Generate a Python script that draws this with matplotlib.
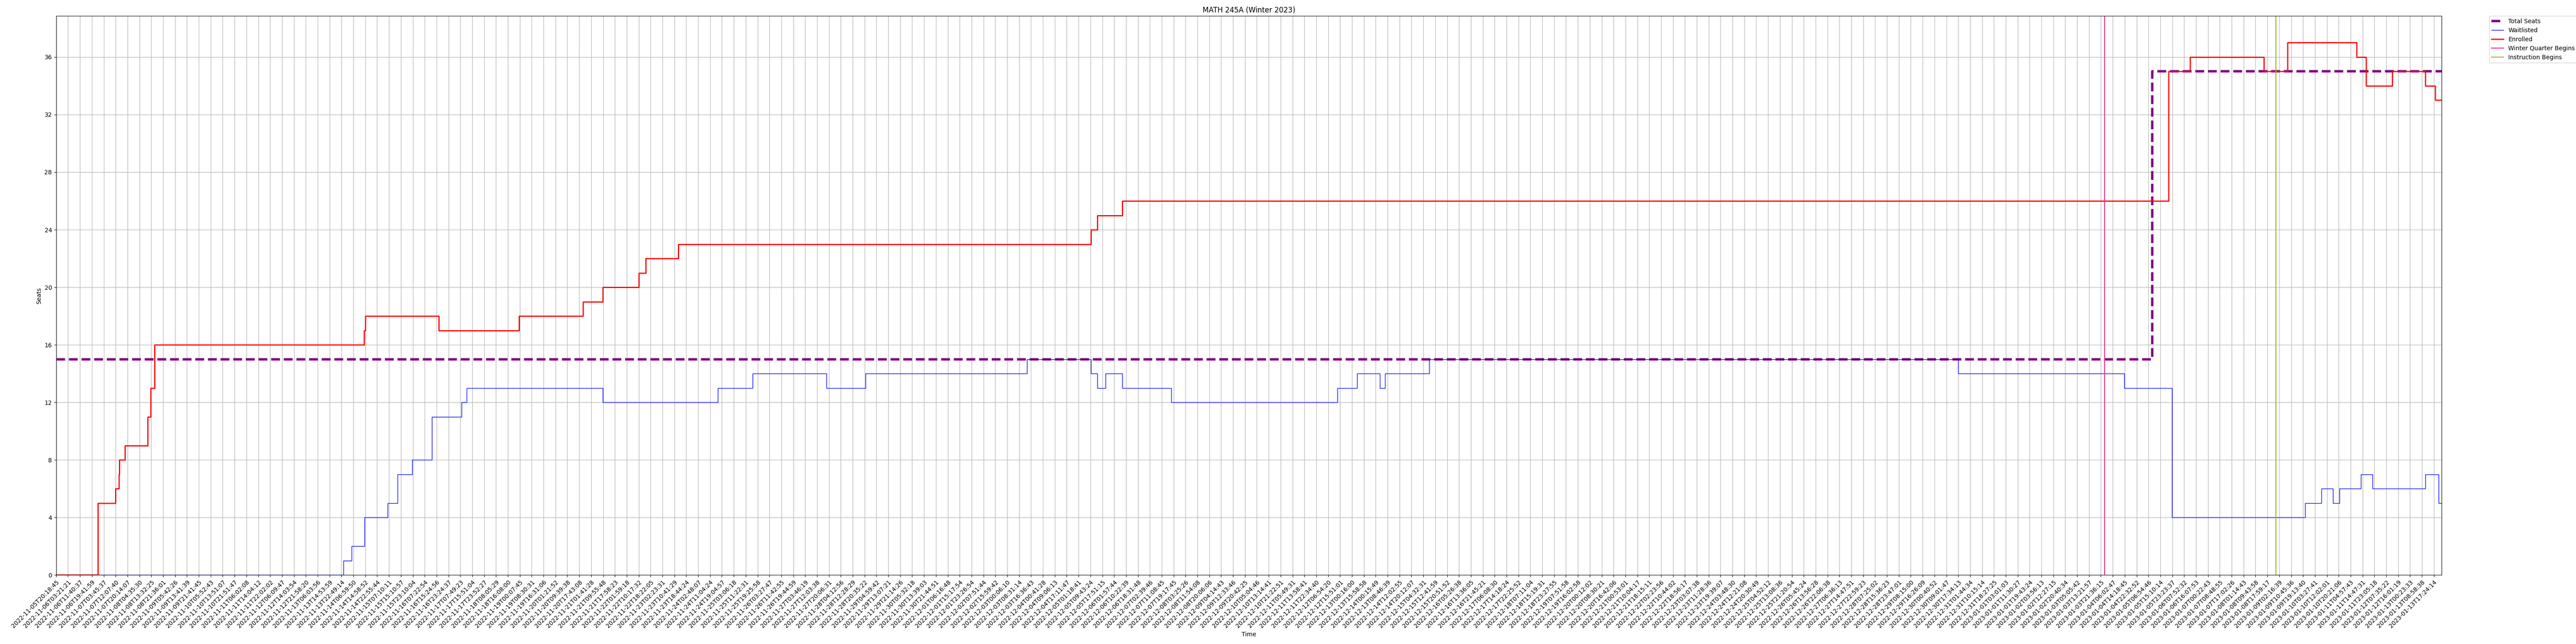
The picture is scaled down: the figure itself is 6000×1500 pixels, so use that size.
import matplotlib
matplotlib.use("Agg")
import matplotlib.pyplot as plt

# ---- tick labels (sample timestamps shown on the x axis) ----
time_labels = [
    "2022-11-05T20:18:45", "2022-11-06T03:21:21", "2022-11-06T11:40:37", "2022-11-06T19:41:59",
    "2022-11-07T03:45:37", "2022-11-07T12:07:40", "2022-11-07T20:14:07", "2022-11-08T04:35:30",
    "2022-11-08T13:32:25", "2022-11-08T21:36:01", "2022-11-09T05:42:26", "2022-11-09T13:41:39",
    "2022-11-09T21:41:45", "2022-11-10T05:52:43", "2022-11-10T13:51:07", "2022-11-10T21:51:47",
    "2022-11-11T06:02:08", "2022-11-11T14:04:12", "2022-11-11T22:02:02", "2022-11-12T06:09:47",
    "2022-11-12T14:03:54", "2022-11-12T21:58:20", "2022-11-13T06:03:56", "2022-11-13T14:53:59",
    "2022-11-13T22:49:14", "2022-11-14T06:59:50", "2022-11-14T14:58:52", "2022-11-14T22:55:44",
    "2022-11-15T07:10:11", "2022-11-15T15:10:57", "2022-11-15T23:10:04", "2022-11-16T07:22:54",
    "2022-11-16T15:24:56", "2022-11-16T23:24:37", "2022-11-17T07:49:23", "2022-11-17T15:51:04",
    "2022-11-17T23:52:27", "2022-11-18T08:05:29", "2022-11-18T16:08:00", "2022-11-19T00:07:45",
    "2022-11-19T08:30:31", "2022-11-19T16:31:06", "2022-11-20T01:21:52", "2022-11-20T09:39:38",
    "2022-11-20T17:43:08", "2022-11-21T01:41:28", "2022-11-21T09:55:48", "2022-11-21T17:58:23",
    "2022-11-22T01:59:18", "2022-11-22T10:17:32", "2022-11-22T18:22:05", "2022-11-23T02:23:31",
    "2022-11-23T10:41:29", "2022-11-23T18:44:24", "2022-11-24T02:48:07", "2022-11-24T11:04:24",
    "2022-11-24T19:04:57", "2022-11-25T03:06:18", "2022-11-25T11:22:31", "2022-11-25T19:25:58",
    "2022-11-26T03:27:47", "2022-11-26T11:42:55", "2022-11-26T19:44:59", "2022-11-27T03:46:19",
    "2022-11-27T12:03:38", "2022-11-27T20:06:31", "2022-11-28T04:12:56", "2022-11-28T12:28:29",
    "2022-11-28T20:35:22", "2022-11-29T04:59:42", "2022-11-29T13:07:21", "2022-11-29T21:14:26",
    "2022-11-30T05:32:18", "2022-11-30T13:39:03", "2022-11-30T21:44:51", "2022-12-01T06:16:48",
    "2022-12-01T15:17:54", "2022-12-01T23:26:54", "2022-12-02T07:51:44", "2022-12-02T15:59:42",
    "2022-12-03T00:06:10", "2022-12-03T08:31:14", "2022-12-03T16:36:43", "2022-12-04T00:41:28",
    "2022-12-04T09:06:13", "2022-12-04T17:11:47", "2022-12-05T01:18:41", "2022-12-05T09:43:24",
    "2022-12-05T17:51:15", "2022-12-06T01:57:44", "2022-12-06T10:22:39", "2022-12-06T18:31:48",
    "2022-12-07T02:39:46", "2022-12-07T11:08:45", "2022-12-07T19:17:45", "2022-12-08T03:25:26",
    "2022-12-08T11:54:08", "2022-12-08T20:06:06", "2022-12-09T04:14:43", "2022-12-09T12:33:46",
    "2022-12-09T20:42:25", "2022-12-10T05:04:46", "2022-12-10T13:14:41", "2022-12-10T21:22:51",
    "2022-12-11T05:49:31", "2022-12-11T13:58:41", "2022-12-11T22:34:40", "2022-12-12T06:54:20",
    "2022-12-12T15:51:01", "2022-12-13T00:16:00", "2022-12-13T15:58:58", "2022-12-14T00:15:49",
    "2022-12-13T08:46:39", "2022-12-14T12:02:55", "2022-12-14T20:12:07", "2022-12-15T04:32:31",
    "2022-12-15T12:41:59", "2022-12-15T20:51:52", "2022-12-16T05:26:38", "2022-12-16T13:36:05",
    "2022-12-16T21:45:21", "2022-12-17T06:08:30", "2022-12-17T14:18:24", "2022-12-17T22:25:52",
    "2022-12-18T07:11:04", "2022-12-18T15:19:31", "2022-12-18T23:27:55", "2022-12-19T07:51:58",
    "2022-12-19T16:02:58", "2022-12-20T00:12:02", "2022-12-20T08:30:21", "2022-12-20T16:42:06",
    "2022-12-21T00:53:01", "2022-12-21T10:04:17", "2022-12-21T18:15:11", "2022-12-22T02:23:56",
    "2022-12-22T10:44:02", "2022-12-22T18:56:17", "2022-12-23T03:07:38", "2022-12-23T11:28:36",
    "2022-12-23T19:39:07", "2022-12-24T03:48:30", "2022-12-24T12:21:08", "2022-12-24T20:30:49",
    "2022-12-25T04:52:12", "2022-12-25T13:08:36", "2022-12-25T21:20:54", "2022-12-26T05:45:24",
    "2022-12-26T13:56:28", "2022-12-26T22:06:38", "2022-12-27T06:36:13", "2022-12-27T14:47:51",
    "2022-12-27T22:59:23", "2022-12-28T07:25:02", "2022-12-28T15:36:23", "2022-12-28T23:47:01",
    "2022-12-29T08:15:00", "2022-12-29T16:26:09", "2022-12-30T00:40:52", "2022-12-30T09:01:47",
    "2022-12-30T17:34:13", "2022-12-31T01:44:34", "2022-12-31T10:15:14", "2022-12-31T18:27:25",
    "2023-01-01T03:01:03", "2023-01-01T11:30:27", "2023-01-01T19:43:24", "2023-01-02T03:56:13",
    "2023-01-02T12:27:15", "2023-01-02T20:40:34", "2023-01-03T05:05:42", "2023-01-03T13:21:57",
    "2023-01-03T21:36:15", "2023-01-04T06:02:47", "2023-01-04T14:18:45", "2023-01-04T22:32:52",
    "2023-01-05T06:54:46", "2023-01-05T15:10:14", "2023-01-05T23:23:37", "2023-01-06T07:52:32",
    "2023-01-06T16:07:53", "2023-01-07T00:22:43", "2023-01-07T08:48:55", "2023-01-07T17:02:26",
    "2023-01-08T01:14:43", "2023-01-08T09:43:58", "2023-01-08T17:59:17", "2023-01-09T02:16:39",
    "2023-01-09T10:45:36", "2023-01-09T19:13:40", "2023-01-10T03:27:41", "2023-01-10T12:02:01",
    "2023-01-10T20:21:06", "2023-01-11T04:57:43", "2023-01-11T14:47:31", "2023-01-11T23:05:18",
    "2023-01-12T07:35:22", "2023-01-12T16:01:19", "2023-01-13T00:23:33", "2023-01-13T08:58:38",
    "2023-01-13T17:24:14",
]

# position of the last sample, in tick units (one unit = one labelled timestamp)
last_sample = 200.65

# ---- series: change points (in tick units) and the value from that point on ----
seats_t = [0, 176.3]
seats_v = [15, 35]

enrolled_t = [0, 3.5, 5.0, 5.27, 5.33, 5.78, 7.71, 7.95, 8.26, 25.9, 26.0, 32.17, 38.94,
              44.33, 45.99, 49.03, 49.58, 52.35, 87.04, 87.59, 89.67, 177.7, 179.5,
              185.7, 187.7, 188.2, 193.5, 194.3, 196.5, 199.3, 200.1]
enrolled_v = [0, 5, 6, 7, 8, 9, 11, 13, 16, 17, 18, 17, 18,
              19, 20, 21, 22, 23, 24, 25, 26, 35, 36,
              35, 37, 37, 36, 34, 35, 34, 33]

wait_t = [0, 24.15, 24.85, 25.95, 27.89, 28.71, 29.96, 31.62, 34.11, 34.52, 45.99,
          55.66, 58.57, 64.79, 68.1, 81.65, 87.04, 87.59, 88.28, 89.67, 93.81,
          107.77, 109.43, 111.36, 111.78, 115.51, 160.0, 173.97, 177.98,
          189.18, 190.56, 191.53, 192.08, 193.88, 194.85, 199.3, 200.4]
wait_v = [0, 1, 2, 4, 5, 7, 8, 11, 12, 13, 12,
          13, 14, 13, 14, 15, 14, 13, 14, 13, 12,
          13, 14, 13, 14, 15, 14, 13, 4,
          5, 6, 5, 6, 7, 6, 7, 5]

# key dates (tick units)
quarter_begins = 172.3
instruction_begins = 186.7


def extend(t, v):
    return list(t) + [last_sample], list(v) + [v[-1]]


fig = plt.figure(figsize=(60, 15), dpi=100)
ax = fig.add_axes([0.0218, 0.1073, 0.9260, 0.8677])

x, y = extend(seats_t, seats_v)
ax.step(x, y, where="post", color="purple", linestyle="--", linewidth=4, label="Total Seats")
x, y = extend(wait_t, wait_v)
ax.step(x, y, where="post", color="blue", linewidth=1, label="Waitlisted")
x, y = extend(enrolled_t, enrolled_v)
ax.step(x, y, where="post", color="red", linewidth=2, label="Enrolled")
ax.axvline(quarter_begins, color="#e7298a", linewidth=1.5, label="Winter Quarter Begins")
ax.axvline(instruction_begins, color="#99b81a", linewidth=1.5, label="Instruction Begins")

ax.set_xlim(0, last_sample)
ax.set_ylim(0, 38.85)
ax.set_xticks(range(len(time_labels)))
ax.set_xticklabels(time_labels, rotation=45, ha="right", rotation_mode="anchor")
ax.set_yticks(range(0, 37, 4))
ax.grid(True)
ax.set_title("MATH 245A (Winter 2023)")
ax.set_xlabel("Time")
ax.set_ylabel("Seats")
ax.legend(loc="upper left", bbox_to_anchor=(1.02, 1), borderaxespad=0)

fig.savefig("out.png", dpi=100)
